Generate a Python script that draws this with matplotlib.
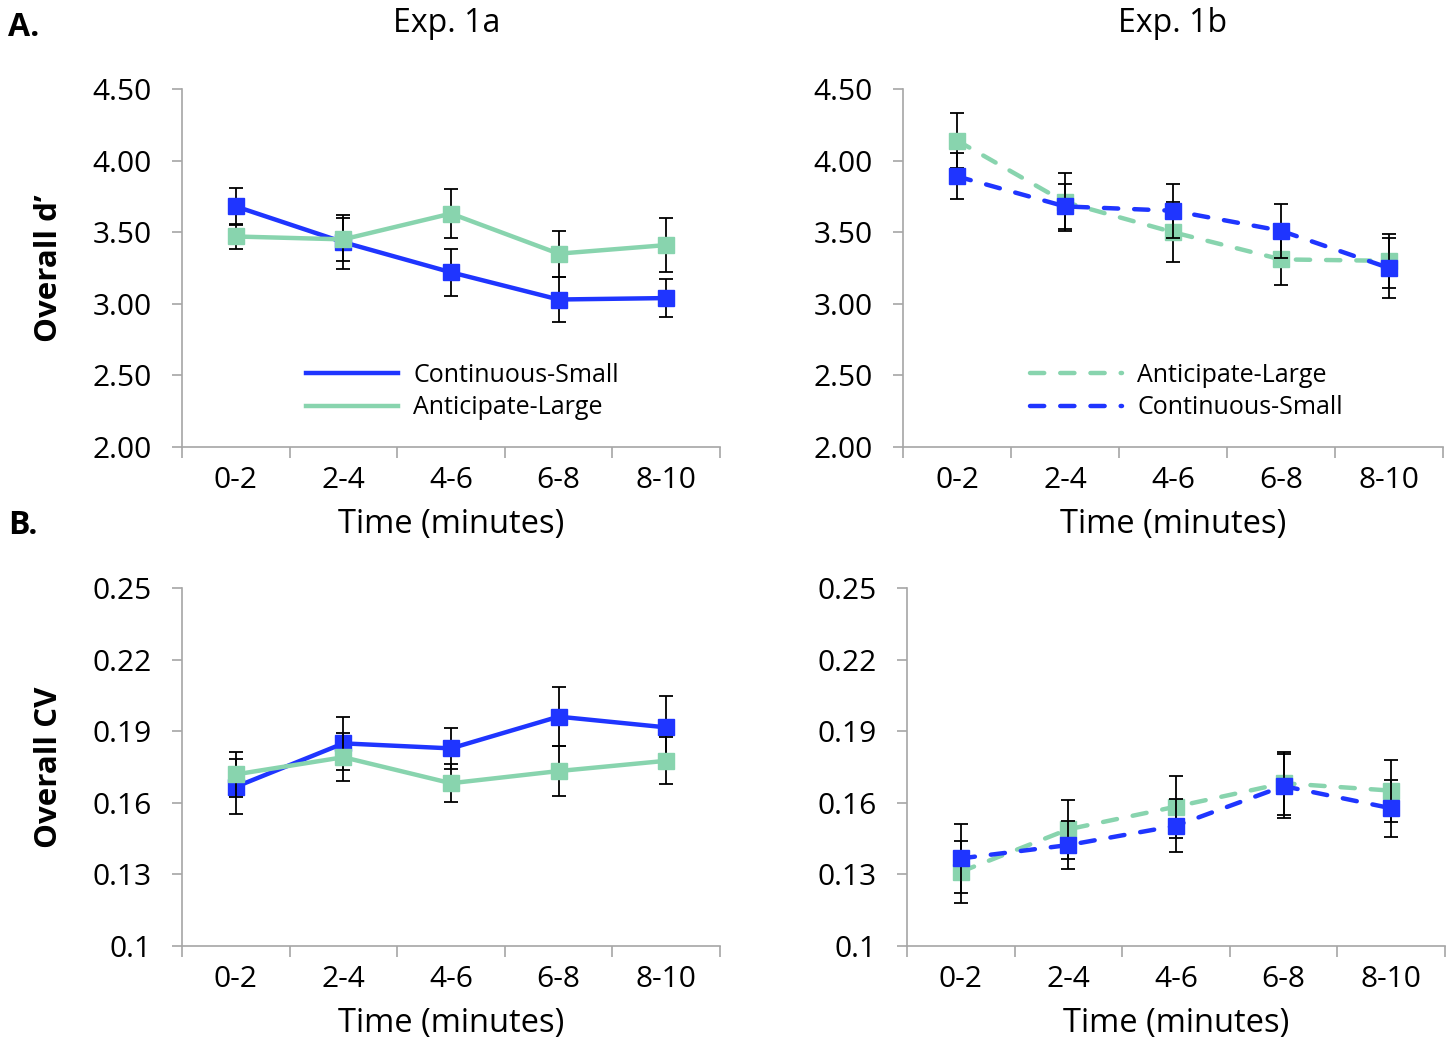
import numpy as np
import matplotlib
matplotlib.use("Agg")
import matplotlib.pyplot as plt

plt.rcParams['font.family'] = ['Open Sans', 'DejaVu Sans']

times = ["0-2", "2-4", "4-6", "6-8", "8-10"]

# Exp 1a, d'
dp_1a_cs = [3.68, 3.43, 3.22, 3.03, 3.04]
dp_1a_cs_err = [0.13, 0.19, 0.165, 0.155, 0.13]
dp_1a_al = [3.47, 3.45, 3.63, 3.35, 3.41]
dp_1a_al_err = [0.09, 0.15, 0.17, 0.16, 0.19]

# Exp 1b, d'
dp_1b_al = [4.14, 3.71, 3.50, 3.31, 3.30]
dp_1b_al_err = [0.19, 0.20, 0.21, 0.18, 0.19]
dp_1b_cs = [3.89, 3.68, 3.65, 3.51, 3.25]
dp_1b_cs_err = [0.16, 0.16, 0.19, 0.19, 0.21]

# Exp 1a, CV
cv_1a_cs = [0.1667, 0.1849, 0.1828, 0.1961, 0.1916]
cv_1a_cs_err = [0.0115, 0.011, 0.0087, 0.0125, 0.013]
cv_1a_al = [0.1719, 0.1791, 0.1682, 0.1733, 0.1776]
cv_1a_al_err = [0.0093, 0.010, 0.008, 0.0105, 0.0099]

# Exp 1b, CV
cv_1b_al = [0.1311, 0.1489, 0.1584, 0.1682, 0.1651]
cv_1b_al_err = [0.013, 0.0123, 0.013, 0.0132, 0.013]
cv_1b_cs = [0.1367, 0.1423, 0.1504, 0.1670, 0.1577]
cv_1b_cs_err = [0.0144, 0.010, 0.011, 0.0134, 0.012]

BLUE = "#1f35ff"
GREEN = "#88d4ae"
SPINE = "#a6a6a6"
DASH = (3.2, 3.6)

fig = plt.figure(figsize=(14.53, 10.40), dpi=100)
W, H = 1453, 1040


def add_ax(l, r, t, b):
    return fig.add_axes([l / W, 1 - b / H, (r - l) / W, (b - t) / H])


ax_tl = add_ax(182, 720, 89, 447)
ax_tr = add_ax(903, 1443, 89, 447)
ax_bl = add_ax(182, 720, 588, 946)
ax_br = add_ax(907, 1445, 588, 946)

x = np.arange(len(times))


def series(ax, y, err, color, dashed, label, z):
    ax.errorbar(x, y, yerr=err, fmt="none", ecolor="black", elinewidth=1.3,
                capsize=5, capthick=1.3, zorder=z)
    line, = ax.plot(x, y, color=color, lw=3.2, marker="s", ms=11.5, mec=color,
                    label=label, zorder=z + 1)
    if dashed:
        line.set_dashes(DASH)
        line.set_dash_capstyle("round")


def style(ax, yticks, ylabels):
    ax.set_xlim(-0.5, 4.5)
    ax.set_ylim(yticks[0], yticks[-1])
    ax.set_yticks(yticks)
    ax.set_yticklabels(ylabels, fontsize=21.5)
    ax.set_xticks(np.arange(-0.5, 5, 1.0))
    ax.set_xticklabels([])
    ax.set_xticks(x, minor=True)
    ax.set_xticklabels(times, minor=True, fontsize=21.5)
    ax.tick_params(axis="x", which="major", length=8, color=SPINE, width=1.2)
    ax.tick_params(axis="x", which="minor", length=0, pad=14)
    ax.tick_params(axis="y", length=7, color=SPINE, width=1.2, pad=15)
    for s in ["top", "right"]:
        ax.spines[s].set_visible(False)
    for s in ["left", "bottom"]:
        ax.spines[s].set_color(SPINE)
        ax.spines[s].set_linewidth(1.2)
    ax.set_xlabel("Time (minutes)", fontsize=23.5, labelpad=9)


dp_ticks = [2.0, 2.5, 3.0, 3.5, 4.0, 4.5]
dp_labels = ["2.00", "2.50", "3.00", "3.50", "4.00", "4.50"]
cv_ticks = [0.10, 0.13, 0.16, 0.19, 0.22, 0.25]
cv_labels = ["0.1", "0.13", "0.16", "0.19", "0.22", "0.25"]

series(ax_tl, dp_1a_cs, dp_1a_cs_err, BLUE, False, "Continuous-Small", 2)
series(ax_tl, dp_1a_al, dp_1a_al_err, GREEN, False, "Anticipate-Large", 4)
series(ax_tr, dp_1b_al, dp_1b_al_err, GREEN, True, "Anticipate-Large", 2)
series(ax_tr, dp_1b_cs, dp_1b_cs_err, BLUE, True, "Continuous-Small", 4)
series(ax_bl, cv_1a_cs, cv_1a_cs_err, BLUE, False, "Continuous-Small", 2)
series(ax_bl, cv_1a_al, cv_1a_al_err, GREEN, False, "Anticipate-Large", 4)
series(ax_br, cv_1b_al, cv_1b_al_err, GREEN, True, "Anticipate-Large", 2)
series(ax_br, cv_1b_cs, cv_1b_cs_err, BLUE, True, "Continuous-Small", 4)

style(ax_tl, dp_ticks, dp_labels)
style(ax_tr, dp_ticks, dp_labels)
style(ax_bl, cv_ticks, cv_labels)
style(ax_br, cv_ticks, cv_labels)

ax_tl.set_ylabel("Overall d\u2019", fontsize=22.5, fontweight="bold", labelpad=20)
ax_bl.set_ylabel("Overall CV", fontsize=22.5, fontweight="bold", labelpad=20)

# legends: lines only, no markers
for ax, xa, dashed in [(ax_tl, 0.23, False), (ax_tr, 0.235, True)]:
    h, l = ax.get_legend_handles_labels()
    hs = []
    for hh in h:
        ln = plt.Line2D([], [], color=hh.get_color(), lw=3.2)
        if dashed:
            ln.set_dashes(DASH)
            ln.set_dash_capstyle("round")
        hs.append(ln)
    ax.legend(hs, l, loc="upper left", bbox_to_anchor=(xa, 0.235), frameon=False,
              fontsize=18, handlelength=3.7, handletextpad=0.6,
              labelspacing=0.3, borderaxespad=0, borderpad=0)

fig.text(447 / W, 1 - 24 / H, "Exp. 1a", ha="center", va="center", fontsize=23)
fig.text(1173 / W, 1 - 24 / H, "Exp. 1b", ha="center", va="center", fontsize=23)
fig.text(8 / W, 1 - 28 / H, "A.", ha="left", va="center", fontsize=23, fontweight="bold")
fig.text(8 / W, 1 - 526 / H, "B.", ha="left", va="center", fontsize=23, fontweight="bold")

fig.savefig("out.png", dpi=100)
